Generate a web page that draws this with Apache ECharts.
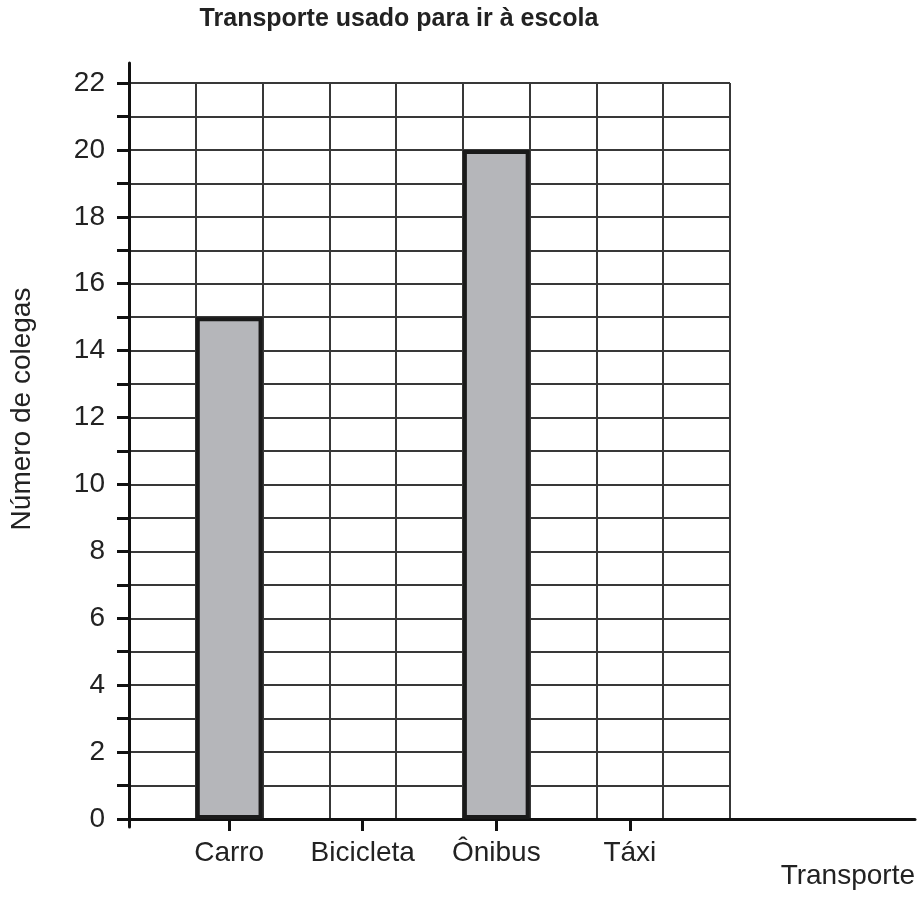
<!DOCTYPE html>
<html>
<head>
<meta charset="utf-8">
<script src="https://cdn.jsdelivr.net/npm/echarts@6/dist/echarts.min.js"></script>
<style>
  html, body { margin: 0; padding: 0; background: #fff; }
  #chart { width: 919px; height: 897px; }
</style>
</head>
<body>
<div id="chart"></div>
<script>
const titleText = 'Transporte usado para ir à escola';
const categories = ['Carro', 'Bicicleta', 'Ônibus', 'Táxi'];
const values = [15, 0, 20, 0];
const yMin = 0;
const yMax = 22;
const yStep = 1;
const yAxisName = 'Número de colegas';
const xAxisName = 'Transporte';

// Each category occupies every other column of the grid
const slots = [''];
const slotData = [null];
categories.forEach((c, i) => {
  slots.push(c, '');
  const v = values[i];
  slotData.push(v === 0 ? { value: v, itemStyle: { borderWidth: 0 } } : v, null);
});

const FONT = 'Liberation Sans, Arial, sans-serif';
const AXIS = '#111';
const GRIDC = '#383838';
const TXT = '#222';
const FS = 28;

const chart = echarts.init(document.getElementById('chart'), null, { renderer: 'canvas' });
chart.setOption({
  animation: false,
  backgroundColor: '#fff',
  title: {
    text: titleText,
    left: 399,
    top: 7,
    textAlign: 'center',
    padding: 0,
    textStyle: { fontSize: 25, fontWeight: 'bold', color: TXT, fontFamily: FONT }
  },
  grid: [
    { left: 129, top: 83, width: 601, height: 736 },
    { left: 129, top: 63, width: 786, height: 764 }
  ],
  xAxis: [
    {
      type: 'category',
      gridIndex: 0,
      data: slots,
      boundaryGap: true,
      axisLine: { show: true, lineStyle: { color: AXIS, width: 3 } },
      axisTick: {
        show: true, alignWithLabel: true, length: 12,
        interval: (i, v) => v !== '',
        lineStyle: { color: AXIS, width: 3 }
      },
      axisLabel: { interval: 0, margin: 20, fontSize: FS, color: TXT, fontFamily: FONT },
      splitLine: { show: true, interval: 0, lineStyle: { color: GRIDC, width: 2 } }
    },
    {
      type: 'value',
      gridIndex: 1,
      min: 0, max: 1,
      axisLine: { show: true, onZero: true, lineStyle: { color: AXIS, width: 3 } },
      axisTick: { show: false },
      axisLabel: { show: false },
      splitLine: { show: false },
      name: xAxisName,
      nameLocation: 'end',
      nameGap: 0,
      nameTextStyle: {
        align: 'right', verticalAlign: 'top', padding: [43, 0, 0, 0],
        fontSize: FS, color: TXT, fontFamily: FONT
      }
    }
  ],
  yAxis: [
    {
      type: 'value',
      gridIndex: 0,
      min: yMin, max: yMax, interval: yStep,
      axisLine: { show: true, lineStyle: { color: AXIS, width: 3 } },
      axisTick: { show: true, length: 12, lineStyle: { color: AXIS, width: 3 } },
      axisLabel: {
        margin: 24, fontSize: FS, color: TXT, fontFamily: FONT,
        formatter: v => (v % 2 === 0 ? String(v) : '')
      },
      splitLine: { show: true, lineStyle: { color: GRIDC, width: 2 } },
      name: yAxisName,
      nameLocation: 'middle',
      nameGap: 93,
      nameTextStyle: { fontSize: FS, color: TXT, fontFamily: FONT, padding: [0, 0, 0, 84] }
    },
    {
      type: 'value',
      gridIndex: 1,
      min: -8, max: 756,
      axisLine: { show: true, onZero: true, lineStyle: { color: AXIS, width: 3 } },
      axisTick: { show: false },
      axisLabel: { show: false },
      splitLine: { show: false }
    }
  ],
  series: [
    {
      type: 'bar',
      xAxisIndex: 0,
      yAxisIndex: 0,
      data: slotData,
      barWidth: '100%',
      itemStyle: { color: '#b5b6ba', borderColor: '#1a1a1a', borderWidth: 4 }
    }
  ]
});
</script>
</body>
</html>
